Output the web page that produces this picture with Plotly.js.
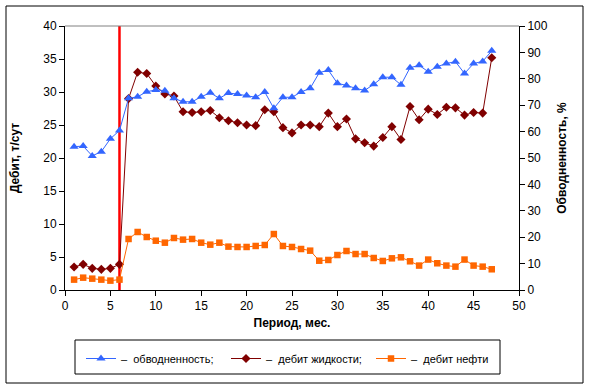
<!DOCTYPE html>
<html>
<head>
<meta charset="utf-8">
<script src="https://cdn.plot.ly/plotly-3.0.1.min.js"></script>
<style>
html,body{margin:0;padding:0;background:#fff;}
#chart{width:590px;height:386px;}
</style>
</head>
<body>
<div id="chart"></div>
<script>
// Period, months
var months = [1,2,3,4,5,6,7,8,9,10,11,12,13,14,15,16,17,18,19,20,21,22,23,24,25,26,27,28,29,30,31,32,33,34,35,36,37,38,39,40,41,42,43,44,45,46,47];
// Water cut, % (right axis)
var waterCut = [54.3,54.5,50.8,52.4,57.3,60.4,72.6,73.2,75.1,75.8,75.5,72.6,71.3,71.3,73.2,74.7,72.6,74.6,74.2,73.7,73.0,75.0,68.8,73.0,73.0,75.0,76.4,82.3,83.3,78.3,77.5,76.4,75.6,77.9,80.6,80.6,77.7,84.2,85.1,82.7,84.6,85.8,86.5,82.0,85.8,86.6,90.6];
// Liquid rate, t/day (left axis)
var liquidRate = [3.48,3.89,3.28,3.13,3.28,3.89,29.0,33.0,32.8,30.9,29.7,29.4,27.0,26.9,27.0,27.2,26.1,25.65,25.35,25.0,24.9,27.3,27.0,24.6,23.8,25.0,25.0,24.75,26.8,24.75,25.9,22.9,22.3,21.8,23.1,24.75,22.8,27.8,25.8,27.4,26.6,27.7,27.6,26.5,26.9,26.8,35.2];
// Oil rate, t/day (left axis)
var oilRate = [1.57,1.87,1.72,1.57,1.42,1.57,7.73,8.79,8.03,7.47,7.17,7.88,7.63,7.73,7.17,6.87,7.17,6.57,6.52,6.52,6.67,6.82,8.48,6.67,6.52,6.21,5.96,4.44,4.55,5.30,5.91,5.45,5.45,4.85,4.4,4.8,4.95,4.35,3.70,4.61,4.05,3.70,3.54,4.61,3.70,3.54,3.14];
// Vertical marker line (event at month 6)
var eventX = [6,6];
var eventY = [0,40];
// Axis ticks
var xTicks = [0,5,10,15,20,25,30,35,40,45,50];
var yTicks = [0,5,10,15,20,25,30,35,40];
var y2Ticks = [0,10,20,30,40,50,60,70,80,90,100];
// Legend labels
var names = ['\u2013  обводненность;', '\u2013  дебит жидкости;', '\u2013  дебит нефти'];

var FONT = 'Liberation Sans, Arial, sans-serif';

var traces = [
  {x: eventX, y: eventY, mode:'lines', line:{color:'#ff0000', width:2.5}, showlegend:false, hoverinfo:'skip', yaxis:'y'},
  {x: months, y: waterCut, name: names[0], yaxis:'y2', mode:'lines+markers',
   line:{color:'#3366ff', width:1}, marker:{symbol:'triangle-up', size:8, color:'#3366ff'}},
  {x: months, y: liquidRate, name: names[1], yaxis:'y', mode:'lines+markers',
   line:{color:'#800000', width:1}, marker:{symbol:'diamond', size:7, color:'#800000'}},
  {x: months, y: oilRate, name: names[2], yaxis:'y', mode:'lines+markers',
   line:{color:'#ff6600', width:1}, marker:{symbol:'square', size:6.5, color:'#ff6600'}}
];

var L = 65, R = 71, T = 26, B = 96;
var W = 590 - L - R, H = 386 - T - B;
function px(x){ return (x - L) / W; }
function py(y){ return (386 - B - y) / H; }

var layout = {
  width: 590, height: 386,
  margin: {l:L, r:R, t:T, b:B, pad:0, autoexpand:false},
  paper_bgcolor:'#ffffff', plot_bgcolor:'#ffffff',
  font: {family: FONT, size: 12, color:'#000'},
  xaxis: {
    range:[0,50], tickvals:xTicks, ticks:'outside', ticklen:5, tickwidth:1, tickcolor:'#000',
    showline:true, linecolor:'#000', linewidth:1, showgrid:false, zeroline:false,
    tickfont:{family:FONT, size:12},
    title:{text:'Период, мес.', font:{family:FONT, size:12, weight:'bold'}, standoff:6},
    automargin:false
  },
  yaxis: {
    range:[0,40], tickvals:yTicks, ticks:'outside', ticklen:5, tickwidth:1, tickcolor:'#000',
    showline:true, linecolor:'#000', linewidth:1, showgrid:false, zeroline:false,
    tickfont:{family:FONT, size:12},
    title:{text:'Дебит, т/сут', font:{family:FONT, size:12, weight:'bold'}, standoff:21},
    automargin:false
  },
  yaxis2: {
    range:[0,100], tickvals:y2Ticks, ticks:'outside', ticklen:5, tickwidth:1, tickcolor:'#000',
    overlaying:'y', side:'right',
    showline:true, linecolor:'#000', linewidth:1, showgrid:false, zeroline:false,
    tickfont:{family:FONT, size:12},
    title:{text:'Обводненность, %', font:{family:FONT, size:12, weight:'bold'}, standoff:10},
    automargin:false
  },
  showlegend:true,
  legend: {
    orientation:'h', x:px(81), xanchor:'left', y:py(344), yanchor:'top',
    borderwidth:0, bgcolor:'rgba(0,0,0,0)',
    font:{family:FONT, size:11}, entrywidth:100, itemwidth:30,
    traceorder:'normal'
  },
  shapes: [
    {type:'line', xref:'paper', yref:'paper', x0:0, x1:1, y0:1, y1:1, line:{color:'#808080', width:1}},
    {type:'rect', xref:'paper', yref:'paper', x0:px(6), x1:px(583), y0:py(6), y1:py(383), line:{color:'#000', width:1}, fillcolor:'rgba(0,0,0,0)'},
    {type:'rect', xref:'paper', yref:'paper', x0:px(75), x1:px(500), y0:py(340), y1:py(374), line:{color:'#000', width:1}, fillcolor:'rgba(0,0,0,0)'}
  ]
};

Plotly.newPlot('chart', traces, layout, {displayModeBar:false, staticPlot:true});
</script>
</body>
</html>
